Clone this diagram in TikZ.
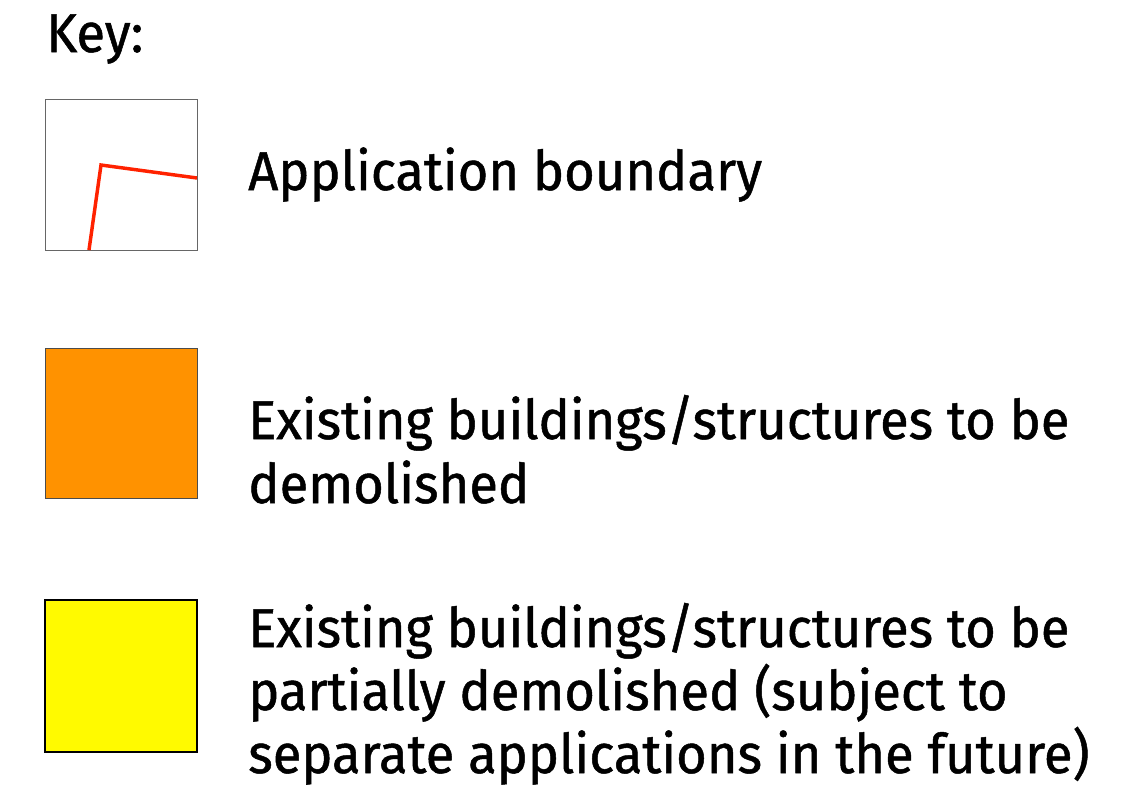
\documentclass[tikz,border=0pt]{standalone}
\usepackage{fontspec}
\setmainfont{Fira Sans}[FakeStretch=0.96,FakeBold=0.9]
\definecolor{demorange}{RGB}{255,146,0}
\definecolor{partyellow}{RGB}{255,250,0}
\definecolor{boundred}{RGB}{255,34,0}
\begin{document}
\begin{tikzpicture}[x=0.75pt,y=-0.75pt,
  keytext/.style={anchor=base west,inner sep=0pt,font=\fontsize{41}{48}\selectfont},
  swatch/.style={line width=0.75pt}]
\useasboundingbox[fill=white] (0,0) rectangle (1145,797);
\node[keytext] (key) at (46,52) {Key:};
% swatch 1
\draw[swatch,draw=black!60,fill=white] (45,99) rectangle (197,250);
\coordinate (b1) at (89,250);
\coordinate (b2) at (101,165);
\coordinate (b3) at (197,178);
\draw[boundred,line width=2.6pt,line join=miter] (b1) -- (b2) -- (b3);
\node[keytext] (t1) at (248,190) {Application boundary};
% swatch 2
\draw[swatch,draw=black!70,fill=demorange] (45,348) rectangle (197,498);
\node[keytext] (t2a) at (248,439) {Existing buildings/structures to be};
\node[keytext] (t2b) at (248,503) {demolished};
% swatch 3
\draw[line width=2.2pt,draw=black,fill=partyellow] (45,600) rectangle (197,752);
\node[keytext] (t3a) at (248,647) {Existing buildings/structures to be};
\node[keytext] (t3b) at (248,710) {partially demolished (subject to};
\node[keytext] (t3c) at (248,773) {separate applications in the future)};
\end{tikzpicture}
\end{document}
